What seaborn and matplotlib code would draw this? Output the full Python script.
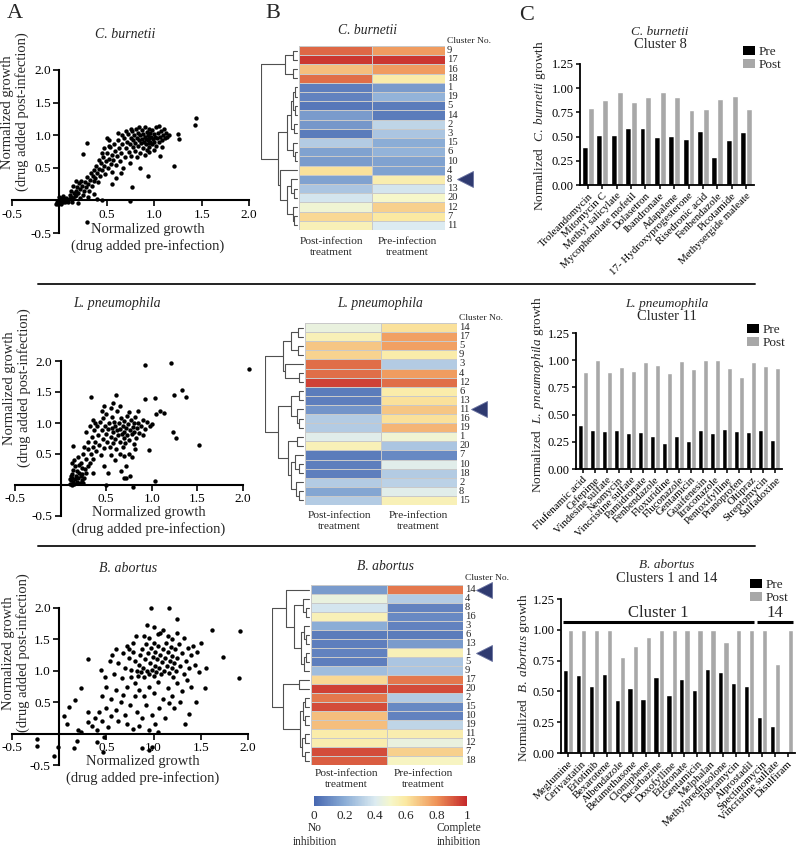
import numpy as np
import pandas as pd
import matplotlib
matplotlib.use("Agg")
import matplotlib.pyplot as plt
import seaborn as sns
from matplotlib.colors import LinearSegmentedColormap
from matplotlib.lines import Line2D
from matplotlib.patches import Patch
from matplotlib.ticker import FormatStrFormatter

sns.set_theme(style="white")
plt.rcParams['font.family'] = ['Liberation Serif', 'DejaVu Serif']
plt.rcParams['mathtext.fontset'] = 'custom'
plt.rcParams['mathtext.rm'] = 'Liberation Serif'
plt.rcParams['mathtext.it'] = 'Liberation Serif:italic'
plt.rcParams['axes.unicode_minus'] = False

# ---------------- data: scatter (pre, post) ----------------
cb_pts = [(-0.04,-0.05),(-0.02,-0.06),(0.0,-0.04),(0.02,-0.06),(0.04,-0.03),(-0.03,-0.02),(0.01,-0.01),
          (0.03,0.0),(0.06,-0.02),(0.05,0.02),(0.08,0.0),(0.02,0.03),(0.07,0.04),(0.1,0.02),(0.09,-0.03),
          (0.12,0.05),(0.11,0.08),(0.14,0.03),(0.0,0.05),(0.04,0.07),(0.13,-0.02),(0.16,0.06),(0.15,0.11),
          (0.18,0.09),(0.17,0.15),(0.2,0.12),(0.19,0.2),(0.22,0.17),(0.21,0.26),(0.24,0.22),(0.23,0.3),
          (0.26,0.14),(0.25,0.08),(0.27,0.28),(0.28,0.2),(0.29,0.36),(0.3,0.25),(0.31,0.15),(0.32,0.32),
          (0.33,0.42),(0.34,0.22),(0.35,0.38),(0.36,0.3),(0.37,0.46),(0.38,0.35),(0.39,0.52),(0.4,0.42),
          (0.41,0.28),(0.42,0.48),(0.43,0.38),(0.44,0.58),(0.45,0.46),(0.46,0.66),(0.47,0.52),(0.48,0.4),
          (0.49,0.6),(0.14,0.22),(0.18,0.3),(0.12,0.14),(0.22,0.04),(0.3,0.05),(0.2,-0.04),(0.4,0.02),
          (0.36,0.1),(0.5,0.72),(0.51,0.5),(0.52,0.64),(0.53,0.82),(0.54,0.56),(0.55,0.7),(0.56,0.44),
          (0.57,0.62),(0.58,0.86),(0.59,0.76),(0.6,0.54),(0.61,0.68),(0.62,0.92),(0.63,0.8),(0.64,0.6),
          (0.65,0.72),(0.66,0.86),(0.67,0.5),(0.68,0.96),(0.69,0.66),(0.7,0.8),(0.55,0.25),(0.6,0.35),
          (0.65,0.42),(0.52,0.92),(0.47,0.8),(0.45,0.72),(0.42,0.62),(0.71,0.9),(0.72,1.02),(0.73,0.74),
          (0.74,0.86),(0.75,0.96),(0.76,0.68),(0.77,1.06),(0.78,0.82),(0.78,0.92),(0.79,1.0),(0.8,0.76),
          (0.8,0.88),(0.81,1.1),(0.82,0.96),(0.83,0.84),(0.83,1.04),(0.84,0.92),(0.85,0.72),(0.85,1.0),
          (0.86,0.88),(0.87,1.08),(0.87,0.94),(0.88,0.8),(0.88,1.02),(0.89,0.9),(0.9,0.98),(0.9,1.12),
          (0.91,0.86),(0.91,0.94),(0.92,1.05),(0.92,0.78),(0.93,0.92),(0.93,1.0),(0.94,0.88),(0.94,1.1),
          (0.95,0.96),(0.95,0.82),(0.96,1.03),(0.96,0.9),(0.97,0.98),(0.98,1.08),(0.98,0.86),(0.99,0.94),
          (1.0,1.02),(1.0,0.9),(1.01,0.98),(1.02,1.12),(1.02,0.84),(1.03,0.95),(1.04,1.04),(1.05,0.9),
          (1.05,1.14),(1.06,0.98),(1.07,1.06),(1.08,0.92),(1.09,1.0),(1.1,1.1),(1.11,0.96),(1.12,1.04),
          (1.14,0.98),(1.16,1.0),(1.08,0.82),(1.0,0.78),(0.84,1.12),(0.76,1.1),(0.7,1.06),(0.66,1.0),
          (0.62,1.04),(0.95,0.74),(0.9,0.7),(0.82,0.66),(0.74,0.58),(1.44,1.27),(1.43,1.15),(1.21,0.53),
          (0.93,0.38),(0.77,0.21),(0.74,-0.01),(0.29,-0.33),(0.29,0.88),(0.25,0.71),(1.25,1.02),
          (1.26,0.94),(1.06,0.68),(0.85,0.5),(0.45,0.0),(0.5,0.96),(0.52,0.84)]

lp_pts = [(0.1,0.02),(0.12,0.0),(0.14,0.05),(0.11,0.08),(0.13,0.12),(0.15,0.02),(0.16,0.09),(0.17,0.15),
          (0.12,0.18),(0.18,0.05),(0.19,0.11),(0.2,0.2),(0.14,0.25),(0.21,0.03),(0.22,0.14),(0.16,0.3),
          (0.23,0.08),(0.18,0.22),(0.24,0.18),(0.2,0.32),(0.25,0.04),(0.26,0.12),(0.11,0.14),(0.13,0.35),
          (0.15,0.4),(0.1,0.1),(0.27,0.26),(0.22,0.36),(0.19,0.45),(0.28,0.2),(0.25,0.5),(0.28,0.42),
          (0.3,0.58),(0.32,0.35),(0.3,0.7),(0.33,0.5),(0.34,0.78),(0.35,0.62),(0.36,0.42),(0.37,0.88),
          (0.38,0.7),(0.39,0.55),(0.4,0.95),(0.41,0.8),(0.42,0.65),(0.43,1.02),(0.44,0.48),(0.45,0.88),
          (0.46,0.74),(0.47,1.08),(0.48,0.6),(0.49,0.95),(0.26,0.62),(0.28,0.85),(0.32,0.95),(0.35,1.05),
          (0.38,1.0),(0.24,0.28),(0.3,0.3),(0.35,0.2),(0.5,0.82),(0.5,1.15),(0.51,0.7),(0.52,0.9),
          (0.53,1.0),(0.54,0.62),(0.55,0.78),(0.56,0.92),(0.56,1.1),(0.57,0.68),(0.58,0.85),(0.59,1.02),
          (0.6,0.74),(0.6,0.95),(0.61,0.58),(0.62,0.88),(0.62,1.2),(0.63,0.8),(0.64,1.0),(0.65,0.7),
          (0.65,0.9),(0.66,1.08),(0.67,0.82),(0.68,0.62),(0.68,0.95),(0.69,0.76),(0.7,1.04),(0.7,0.86),
          (0.71,0.68),(0.72,0.92),(0.73,1.12),(0.73,0.8),(0.74,0.98),(0.75,0.72),(0.76,0.88),(0.77,1.05),
          (0.78,0.82),(0.79,0.94),(0.8,0.66),(0.8,1.0),(0.81,0.86),(0.82,1.1),(0.83,0.76),(0.84,0.92),
          (0.85,1.0),(0.86,0.84),(0.88,0.95),(0.9,1.05),(0.92,0.9),(0.55,0.48),(0.6,0.4),(0.65,0.5),
          (0.7,0.46),(0.75,0.5),(0.78,0.45),(0.72,0.3),(0.66,0.22),(0.7,0.12),(0.48,0.3),(0.52,0.2),
          (0.45,1.2),(0.55,1.25),(0.65,1.28),(0.58,1.32),(0.48,1.28),(0.75,1.18),(0.85,1.2),(0.95,1.02),
          (0.98,0.95),(0.9,0.8),(0.82,0.58),(0.93,1.94),(1.21,1.97),(2.07,1.87),(1.33,1.53),(1.38,1.42),
          (1.24,1.45),(1.03,1.41),(0.93,1.38),(0.33,1.42),(0.61,1.45),(1.52,0.65),(1.23,0.85),(1.26,0.76),
          (0.97,0.57),(1.04,0.06),(0.79,-0.03),(0.76,0.15),(0.72,0.11),(0.14,0.63),(1.09,1.19),(1.05,1.15),
          (1.13,1.16),(1.0,0.99),(0.5,0.0)]

ba_pts = [(0.82,1.0),(0.84,0.92),(0.85,1.1),(0.86,1.25),(0.87,0.98),(0.88,1.35),(0.89,1.05),(0.9,0.9),
          (0.91,1.18),(0.92,1.42),(0.93,1.0),(0.94,1.28),(0.95,0.95),(0.96,1.12),(0.97,1.36),(0.98,1.02),
          (0.99,1.22),(1.0,0.92),(1.0,1.45),(1.01,1.08),(1.02,1.3),(1.03,0.98),(1.04,1.18),(1.05,1.4),
          (1.06,1.05),(1.07,1.25),(1.08,0.95),(1.09,1.14),(1.1,1.35),(1.11,1.0),(1.12,1.2),(1.13,1.45),
          (1.14,1.08),(1.15,1.3),(1.16,0.96),(1.17,1.16),(1.18,1.38),(1.19,1.04),(1.2,1.24),(1.21,0.9),
          (1.22,1.12),(1.23,1.34),(1.24,1.0),(1.25,1.2),(1.27,1.42),(1.28,1.08),(1.3,1.28),(1.32,0.95),
          (1.34,1.16),(1.36,1.36),(1.38,1.05),(1.4,1.25),(1.42,1.4),(1.44,1.1),(1.46,1.3),(1.48,0.98),
          (0.95,1.52),(1.05,1.58),(1.15,1.55),(1.25,1.6),(1.1,1.65),(1.2,1.5),(1.32,1.52),(0.9,1.55),
          (1.0,1.7),(0.8,0.8),(0.85,0.7),(0.9,0.6),(0.95,0.75),(1.0,0.65),(1.05,0.82),(1.1,0.55),
          (1.15,0.72),(1.2,0.6),(1.25,0.8),(1.3,0.68),(1.35,0.85),(1.4,0.75),(1.28,0.5),(1.22,0.4),
          (0.8,0.6),(0.75,0.45),(0.82,0.35),(0.88,0.25),(0.92,0.45),(0.98,0.3),(1.02,0.15),(1.06,0.4),
          (1.12,0.25),(1.16,0.48),(0.7,0.3),(0.65,0.5),(0.6,0.38),(0.72,0.15),(0.78,0.08),(0.85,0.12),
          (0.95,0.05),(1.05,0.02),(0.62,0.2),(0.55,0.28),(0.5,0.4),(0.68,0.62),(0.72,0.75),(0.76,0.9),
          (0.7,1.05),(0.66,0.88),(0.6,0.7),(0.55,0.55),(0.58,0.95),(0.62,1.12),(0.5,0.75),(0.45,0.6),
          (0.48,0.9),(0.42,0.35),(0.38,0.25),(0.35,0.12),(0.4,0.05),(0.3,0.18),(0.45,0.2),(0.52,0.1),
          (0.56,1.25),(0.68,1.28),(0.74,1.2),(0.78,1.3),(0.8,1.15),(0.76,1.02),(0.78,1.45),(0.72,1.4),
          (0.97,2.0),(1.16,2.0),(1.25,1.82),(1.62,1.65),(1.91,1.63),(1.73,1.22),(1.9,0.88),(1.54,0.72),
          (1.37,0.31),(1.33,0.15),(0.3,1.18),(0.23,0.72),(0.1,0.43),(0.05,0.28),(0.08,0.16),(-0.23,-0.09),
          (-0.24,-0.2),(-0.05,-0.35),(-0.01,-0.21),(0.19,-0.11),(0.16,-0.23),(0.4,-0.14),(0.47,-0.05),
          (0.46,-0.29),(0.88,-0.23),(0.95,-0.26),(0.98,-0.21),(0.2,0.05),(0.23,0.03),(0.3,0.34),
          (0.17,0.54),(0.44,1.02),(0.54,1.15),(0.6,1.34),(0.74,1.35),(0.81,1.56),(0.93,1.73),(1.07,1.6),
          (1.5,1.45),(1.55,1.05),(1.45,0.5)]

# ---------------- data: heatmaps ----------------
cb_rows = [9, 17, 16, 18, 1, 19, 5, 14, 2, 3, 15, 6, 10, 4, 8, 13, 20, 12, 7, 11]
cb_post = [0.88, 0.97, 0.70, 0.87, 0.07, 0.08, 0.05, 0.15, 0.14, 0.06, 0.30, 0.17, 0.15, 0.62, 0.17, 0.28, 0.38, 0.48, 0.64, 0.55]
cb_pre = [0.78, 0.97, 0.78, 0.58, 0.15, 0.22, 0.06, 0.06, 0.33, 0.28, 0.20, 0.22, 0.17, 0.17, 0.57, 0.38, 0.50, 0.66, 0.60, 0.40]
cb_tree = (((9, 17, 0.12), (16, 18, 0.12), 0.32),
           ((((((1, 19, 0.06), (5, 14, 0.06), 0.12), (2, 3, 0.07), 0.15), (15, (6, 10, 0.06), 0.12), 0.28),
             (4, ((8, (13, 20, 0.08), 0.15), (12, (7, 11, 0.07), 0.12), 0.27), 0.46), 0.53)), 1.0)

lp_rows = [14, 17, 5, 9, 3, 4, 12, 6, 13, 11, 16, 19, 1, 20, 7, 10, 18, 2, 8, 15]
lp_post = [0.45, 0.55, 0.68, 0.65, 0.87, 0.87, 0.95, 0.06, 0.07, 0.13, 0.30, 0.30, 0.42, 0.55, 0.06, 0.07, 0.07, 0.30, 0.18, 0.30]
lp_pre = [0.62, 0.77, 0.77, 0.58, 0.30, 0.78, 0.87, 0.58, 0.62, 0.68, 0.62, 0.72, 0.48, 0.28, 0.10, 0.42, 0.30, 0.32, 0.42, 0.55]
lp_tree = ((((14, 17, 0.13), (5, 9, 0.13), 0.3), (3, (4, 12, 0.11), 0.47), 0.51),
           ((((6, 13, 0.11), (11, (16, 19, 0.11), 0.16), 0.3),
             ((1, 20, 0.14), ((7, (10, 18, 0.11), 0.2), (2, (8, 15, 0.11), 0.17), 0.3), 0.38), 0.65)), 1.0)

ba_rows = [14, 4, 8, 16, 3, 6, 13, 1, 5, 9, 17, 20, 2, 15, 10, 19, 11, 12, 7, 18]
ba_post = [0.15, 0.45, 0.38, 0.55, 0.20, 0.06, 0.07, 0.08, 0.07, 0.25, 0.64, 0.95, 0.85, 0.93, 0.70, 0.70, 0.58, 0.57, 0.93, 0.90]
ba_pre = [0.85, 0.30, 0.08, 0.10, 0.08, 0.06, 0.15, 0.55, 0.28, 0.28, 0.85, 0.93, 0.30, 0.10, 0.08, 0.33, 0.57, 0.45, 0.66, 0.52]
ba_tree = ((14, ((4, (8, 16, 0.08), 0.16), ((3, (6, 13, 0.07), 0.12), ((1, 5, 0.08), 9, 0.13), 0.2), 0.4), 0.63),
           ((17, 20, 0.27), (((2, 15, 0.1), (10, 19, 0.1), 0.16), ((11, 12, 0.1), (7, 18, 0.1), 0.18), 0.25), 0.69), 1.0)

# ---------------- data: bar charts ----------------
cb_drugs = ['Troleandomycin', 'Mitomycin C', 'Methyl salicylate', 'Mycophenolate mofetil', 'Dolasetron',
            'Ibandronate', 'Adapalene', '17- Hydroxyprogesterone', 'Risedronic acid', 'Fenbendazole',
            'Picotamide', 'Methysergide maleate']
cb_bar_pre = [0.39, 0.52, 0.52, 0.59, 0.59, 0.50, 0.51, 0.48, 0.56, 0.29, 0.47, 0.55]
cb_bar_post = [0.80, 0.88, 0.96, 0.86, 0.91, 0.96, 0.91, 0.77, 0.79, 0.89, 0.92, 0.79]

lp_drugs = ['Flufenamic acid', 'Cefepime', 'Vindesine sulfate', 'Neomycin', 'Vincristine sulfate',
            'Pamidronate', 'Fenbendazole', 'Floxuridine', 'Fluconazole', 'Gentamicin', 'Guaifenesin',
            'Itraconazole', 'Pentoxifylline', 'Pranoprofen', 'Oltipraz', 'Streptomycin', 'Sulfadoxine']
lp_bar_pre = [0.40, 0.36, 0.35, 0.36, 0.33, 0.34, 0.30, 0.24, 0.30, 0.26, 0.36, 0.33, 0.37, 0.35, 0.34, 0.36, 0.27]
lp_bar_post = [0.89, 1.00, 0.89, 0.94, 0.90, 0.98, 0.96, 0.88, 0.99, 0.92, 1.00, 1.00, 0.93, 0.85, 0.98, 0.95, 0.93]

ba_drugs = ['Meglumine', 'Cerivastatin', 'Erlotinib', 'Bexarotene', 'Albendazole', 'Betamethasone',
            'Clomiphene', 'Dacarbazine', 'Doxofylline', 'Etidronate', 'Gentamicin', 'Melphalan',
            'Methylprednisolone', 'Tobramycin', 'Alprostadil', 'Spectinomycin', 'Vincristine sulfate', 'Disulfiram']
ba_bar_pre = [0.67, 0.63, 0.54, 0.64, 0.43, 0.53, 0.44, 0.62, 0.47, 0.60, 0.51, 0.68, 0.66, 0.57, 0.54, 0.29, 0.22, 0.0]
ba_bar_post = [1.00, 1.00, 1.00, 1.00, 0.78, 0.87, 0.94, 1.00, 1.00, 1.00, 1.00, 1.00, 0.90, 1.00, 1.00, 1.00, 0.72, 1.00]
ba_groups = [('Cluster 1', 'Meglumine', 'Alprostadil'), ('14', 'Spectinomycin', 'Disulfiram')]

# ---------------- figure ----------------
W, H = 797, 848
fig = plt.figure(figsize=(W / 100, H / 100), dpi=100)


def rect(l, t, r, b):
    return [l / W, 1 - b / H, (r - l) / W, (b - t) / H]


def ftext(x, y, s, **kw):
    kw.setdefault('ha', 'center')
    kw.setdefault('va', 'center')
    fig.text(x / W, 1 - y / H, s, **kw)


cmap = LinearSegmentedColormap.from_list('inhib', [
    (0.0, '#4767b0'), (0.2, '#8badd6'), (0.4, '#dcebf1'), (0.5, '#f6f7cb'),
    (0.6, '#fbe9a2'), (0.8, '#ef9459'), (1.0, '#c5282a')])


def scatter_panel(pts, box, title, t_xy, yl_xy, xl_xy):
    xa, xb, ya, yb = box   # pixels of x=-0.5, x=2.0, y=2.0, y=-0.5
    ax = fig.add_axes(rect(xa, ya, xb, yb))
    df = pd.DataFrame(pts, columns=['pre', 'post'])
    sns.scatterplot(data=df, x='pre', y='post', ax=ax, color='black', s=10,
                    linewidth=0, clip_on=False, legend=False)
    ax.set_xlim(-0.5, 2.0)
    ax.set_ylim(-0.5, 2.0)
    ax.set_facecolor('none')
    for side in ['top', 'right']:
        ax.spines[side].set_visible(False)
    ax.spines['left'].set_position(('data', 0))
    ax.spines['bottom'].set_position(('data', 0))
    for side in ['left', 'bottom']:
        ax.spines[side].set_color('black')
        ax.spines[side].set_linewidth(1.5)
        ax.spines[side].set_bounds(-0.5, 2.0)
    ticks = [-0.5, 0.5, 1.0, 1.5, 2.0]
    ax.set_xticks(ticks)
    ax.set_yticks(ticks)
    ax.xaxis.set_major_formatter(FormatStrFormatter('%.1f'))
    ax.yaxis.set_major_formatter(FormatStrFormatter('%.1f'))
    ax.tick_params(direction='out', length=4, width=1.2, labelsize=9.5, pad=2,
                   bottom=True, left=True, colors='black')
    ax.set_xlabel('')
    ax.set_ylabel('')
    ftext(*t_xy, title, fontsize=10, style='italic')
    ftext(*yl_xy, 'Normalized growth\n(drug added post-infection)', fontsize=10.5,
          rotation=90, linespacing=1.12)
    ftext(*xl_xy, 'Normalized growth\n(drug added pre-infection)', fontsize=10.5, linespacing=1.2)


def draw_tree(ax, node, rows):
    if not isinstance(node, tuple):
        return rows.index(node) + 0.5, 0.0
    a, b, h = node
    ya, ha = draw_tree(ax, a, rows)
    yb, hb = draw_tree(ax, b, rows)
    ax.plot([ha, h, h, hb], [ya, ya, yb, yb], color='#505050', lw=0.8)
    return (ya + yb) / 2, h


def heat_panel(rows, post, pre, tree, box, dend_left, title, t_xy, lab_y, lab_x, cn_xy, marks, mark_x):
    l, t, r, b = box
    ax = fig.add_axes(rect(l, t, r, b))
    df = pd.DataFrame({'Post': post, 'Pre': pre}, index=rows)
    sns.heatmap(df, ax=ax, cmap=cmap, vmin=0, vmax=1, cbar=False, linewidths=0.6,
                linecolor='#c9c9c9', xticklabels=False, yticklabels=[str(c) for c in rows])
    ax.yaxis.tick_right()
    ax.tick_params(axis='y', length=0, pad=1.5, labelsize=7.6, labelrotation=0)
    for lab in ax.get_yticklabels():
        lab.set_verticalalignment('center')
    ax.set_ylabel('')
    for c in marks:
        ax.plot([mark_x], [rows.index(c) + 0.5], marker='<', markersize=11, color='#2f3a70',
                markeredgecolor='#6a73a0', markeredgewidth=0.6, clip_on=False)
    dax = fig.add_axes(rect(dend_left, t, l, b))
    draw_tree(dax, tree, rows)
    dax.set_xlim(1.0, -0.06)
    dax.set_ylim(len(rows), 0)
    dax.axis('off')
    ftext(*t_xy, title, fontsize=9.8, style='italic')
    ftext(lab_x[0], lab_y, 'Post-infection\ntreatment', fontsize=8.2, linespacing=1.3)
    ftext(lab_x[1], lab_y, 'Pre-infection\ntreatment', fontsize=8.2, linespacing=1.3)
    ftext(*cn_xy, 'Cluster No.', fontsize=6.8, ha='left')


def bar_panel(drugs, pre, post, box, species, cluster_title, t_xy, leg_xy, yl_xy):
    ax = fig.add_axes(rect(*box))
    n = len(drugs)
    df = pd.DataFrame({'drug': drugs * 2, 'cond': ['Pre'] * n + ['Post'] * n, 'val': pre + post})
    sns.barplot(data=df, x='drug', y='val', hue='cond', hue_order=['Pre', 'Post'],
                palette=['black', '#a8a8a8'], width=0.82, saturation=1, ax=ax, legend=False)
    ax.set_ylim(0, 1.25)
    ax.set_xlim(-0.55, n - 0.45)
    ax.set_yticks([0, 0.25, 0.5, 0.75, 1.0, 1.25])
    ax.yaxis.set_major_formatter(FormatStrFormatter('%.2f'))
    for side in ['top', 'right']:
        ax.spines[side].set_visible(False)
    for side in ['left', 'bottom']:
        ax.spines[side].set_color('black')
        ax.spines[side].set_linewidth(1.3)
    ax.tick_params(direction='out', length=3, width=1.1, colors='black', bottom=True, left=True, pad=1.5)
    ax.tick_params(axis='y', labelsize=9)
    ax.set_xticks(range(n))
    ax.set_xticklabels(drugs, rotation=45, ha='right', rotation_mode='anchor', fontsize=7.8)
    ax.set_xlabel('')
    ax.set_ylabel('')
    ax.set_facecolor('none')
    ftext(t_xy[0], t_xy[1], species, fontsize=9.5, style='italic')
    ftext(t_xy[0], t_xy[1] + 13, cluster_title, fontsize=10.5)
    ftext(*yl_xy, r'Normalized  $\mathit{' + species.replace(' ', r'\ ') + r'}$ growth',
          fontsize=9.5, rotation=90)
    handles = [Patch(facecolor='black', edgecolor='none'), Patch(facecolor='#a8a8a8', edgecolor='none')]
    ax.legend(handles, ['Pre', 'Post'], loc='upper left', bbox_to_anchor=(leg_xy[0] / W, 1 - leg_xy[1] / H),
              bbox_transform=fig.transFigure, frameon=False, fontsize=9.5, handlelength=0.9,
              handleheight=0.7, handletextpad=0.3, labelspacing=0.05, borderpad=0, borderaxespad=0)
    return ax


# ---- row 1: C. burnetii ----
scatter_panel(cb_pts, (12, 249, 70, 233), 'C. burnetii', (125, 35), (15, 112), (148, 238))
heat_panel(cb_rows, cb_post, cb_pre, cb_tree, (299, 46, 445, 230), 261, 'C. burnetii', (368, 30),
           247, (331, 407), (447, 41), [8], 2.27)
bar_panel(cb_drugs, cb_bar_pre, cb_bar_post, (580, 64, 754, 185), 'C. burnetii', 'Cluster 8',
          (660, 32), (743, 46), (540, 125))

# ---- row 2: L. pneumophila ----
scatter_panel(lp_pts, (15, 243, 361, 516), 'L. pneumophila', (117, 303), (17, 388), (149, 521))
heat_panel(lp_rows, lp_post, lp_pre, lp_tree, (305, 323, 457, 505), 265, 'L. pneumophila', (380, 303),
           521, (339, 418), (459, 318), [11], 2.29)
bar_panel(lp_drugs, lp_bar_pre, lp_bar_post, (576, 333, 782, 469), 'L. pneumophila', 'Cluster 11',
          (667, 304), (747, 324), (538, 395))

# ---- row 3: B. abortus ----
scatter_panel(ba_pts, (12, 248, 608, 765), 'B. abortus', (128, 568), (16, 653), (143, 770))
heat_panel(ba_rows, ba_post, ba_pre, ba_tree, (311, 585, 463, 765), 272, 'B. abortus', (385, 567),
           779, (346, 423), (465, 578), [14, 1], 2.28)
bax = bar_panel(ba_drugs, ba_bar_pre, ba_bar_post, (561, 599, 795, 753), 'B. abortus', 'Clusters 1 and 14',
                (667, 565), (750, 579), (524, 678))
for name, first, last in ba_groups:
    i0, i1 = ba_drugs.index(first), ba_drugs.index(last)
    bax.plot([i0 - 0.4, i1 + 0.4], [1.065, 1.065], color='black', lw=2.2, clip_on=False,
             solid_capstyle='butt')
    bax.text((i0 + i1) / 2, 1.075, name, ha='center', va='bottom', fontsize=12)

# colour bar
cax = fig.add_axes(rect(314, 796, 467, 806))
sm = plt.cm.ScalarMappable(cmap=cmap, norm=plt.Normalize(0, 1))
cbar = fig.colorbar(sm, cax=cax, orientation='horizontal', ticks=[0, 0.2, 0.4, 0.6, 0.8, 1.0])
cbar.outline.set_visible(False)
cbar.set_ticklabels(['0', '0.2', '0.4', '0.6', '0.8', '1'])
cbar.ax.tick_params(length=0, labelsize=9.5, pad=3)
ftext(315, 835, 'No\ninhibition', fontsize=8.3, linespacing=1.2)
ftext(459, 835, 'Complete\ninhibition', fontsize=8.3, linespacing=1.2)

# panel letters and separators
ftext(15, 14, 'A', fontsize=16)
ftext(273, 14, 'B', fontsize=16)
ftext(527, 15, 'C', fontsize=16)
for yy in [284, 546]:
    fig.add_artist(Line2D([38 / W, 755 / W], [1 - yy / H, 1 - yy / H], color='#222222', lw=1.4))

fig.savefig('out.png', dpi=100)
